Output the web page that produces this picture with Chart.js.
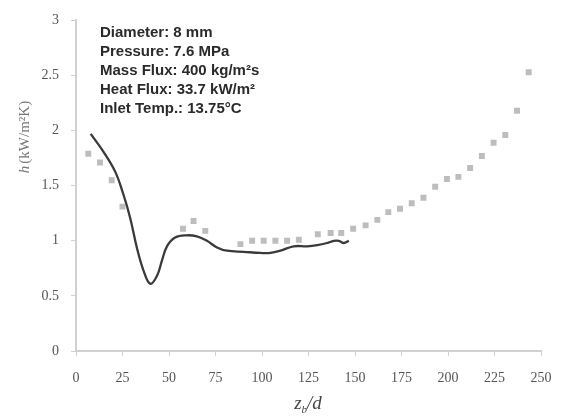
<!DOCTYPE html>
<html>
<head>
<meta charset="utf-8">
<script src="https://cdn.jsdelivr.net/npm/chart.js@4.4.1/dist/chart.umd.min.js"></script>
<style>
  html, body { margin: 0; padding: 0; background: #fff; }
  #wrap { width: 563px; height: 416px; }
</style>
</head>
<body>
<div id="wrap"><canvas id="chart" width="563" height="416"></canvas></div>
<script>
// measured points (grey markers)
const expX = [6.6, 12.9, 19.2, 25.0, 57.5, 63.2, 69.5, 88.4, 94.7, 100.9, 107.2, 113.5, 119.8,
  130.0, 136.9, 142.6, 149.0, 155.7, 162.0, 167.9, 174.2, 180.5, 186.8, 193.1, 199.4, 205.6,
  211.9, 218.2, 224.5, 230.8, 237.1, 243.4];
const expH = [1.79, 1.71, 1.55, 1.31, 1.11, 1.18, 1.09, 0.97, 1.00, 1.00, 1.00, 1.00, 1.01,
  1.06, 1.07, 1.07, 1.11, 1.14, 1.19, 1.26, 1.29, 1.34, 1.39, 1.49, 1.56, 1.58,
  1.66, 1.77, 1.89, 1.96, 2.18, 2.53];

// computed curve (solid line)
const simX = [7.9, 14.7, 21.0, 25.5, 29.1, 32.7, 36.3, 39.9, 43.5, 46.2, 48.9, 53.3, 59.6, 65.0,
  70.4, 75.8, 81.2, 90.2, 99.1, 104.5, 109.9, 117.0, 124.3, 129.7, 135.0, 138.6, 141.3, 144.0, 146.7];
const simH = [1.97, 1.81, 1.63, 1.42, 1.21, 0.94, 0.73, 0.61, 0.68, 0.82, 0.95, 1.03, 1.05, 1.04,
  1.00, 0.94, 0.91, 0.90, 0.89, 0.89, 0.91, 0.95, 0.95, 0.96, 0.98, 1.00, 1.00, 0.98, 1.00];

const xTicks = [0, 25, 50, 75, 100, 125, 150, 175, 200, 225, 250];
const yTicks = [0, 0.5, 1, 1.5, 2, 2.5, 3];

const infoLines = [
  'Diameter: 8 mm',
  'Pressure: 7.6 MPa',
  'Mass Flux: 400 kg/m\u00b2s',
  'Heat Flux: 33.7 kW/m\u00b2',
  'Inlet Temp.: 13.75\u00b0C'
];

const toXY = (xs, ys) => xs.map((x, i) => ({ x: x, y: ys[i] }));
const serif = '"Liberation Serif", "Times New Roman", serif';

// axis titles and the condition box
const annotations = {
  id: 'annotations',
  afterDraw(chart) {
    const ctx = chart.ctx;
    ctx.save();

    ctx.fillStyle = '#2a2a2a';
    ctx.font = 'bold 15px "Liberation Sans", Arial, sans-serif';
    ctx.textBaseline = 'middle';
    ctx.textAlign = 'left';
    infoLines.forEach((t, i) => ctx.fillText(t, 100, 33 + i * 19));

    // y title: h (kW/m²K), rotated
    ctx.translate(25, 137);
    ctx.rotate(-Math.PI / 2);
    ctx.fillStyle = '#777';
    ctx.textBaseline = 'middle';
    ctx.textAlign = 'left';
    ctx.font = 'italic 15px ' + serif;
    const hW = ctx.measureText('h').width;
    ctx.font = '15px ' + serif;
    const rest = '(kW/m\u00b2K)';
    const total = hW + 2 + ctx.measureText(rest).width;
    ctx.font = 'italic 15px ' + serif;
    ctx.fillText('h', -total / 2, 0);
    ctx.font = '15px ' + serif;
    ctx.fillText(rest, -total / 2 + hW + 2, 0);
    ctx.restore();

    // x title: z_b/d
    ctx.save();
    ctx.fillStyle = '#444';
    ctx.textBaseline = 'alphabetic';
    ctx.font = 'italic 19px ' + serif;
    const zW = ctx.measureText('z').width;
    ctx.font = 'italic 11px ' + serif;
    const bW = ctx.measureText('b').width;
    ctx.font = 'italic 19px ' + serif;
    const dW = ctx.measureText('/d').width;
    const x0 = 308 - (zW + bW + dW) / 2;
    const base = 409;
    ctx.fillText('z', x0, base);
    ctx.font = 'italic 11px ' + serif;
    ctx.fillText('b', x0 + zW, base + 4);
    ctx.font = 'italic 19px ' + serif;
    ctx.fillText('/d', x0 + zW + bW, base);
    ctx.restore();
  }
};

new Chart(document.getElementById('chart').getContext('2d'), {
  type: 'scatter',
  data: {
    datasets: [
      {
        label: 'experiment',
        data: toXY(expX, expH),
        pointStyle: 'rect',
        pointRadius: 4.2,
        backgroundColor: '#bdbdbd',
        borderColor: '#bdbdbd',
        borderWidth: 0,
        order: 2
      },
      {
        type: 'line',
        label: 'simulation',
        data: toXY(simX, simH),
        borderColor: '#3a3a3a',
        borderWidth: 2.3,
        pointRadius: 0,
        tension: 0.4,
        fill: false,
        order: 1
      }
    ]
  },
  options: {
    responsive: false,
    animation: false,
    layout: { padding: { top: 16, right: 22, left: 0, bottom: 0 } },
    plugins: {
      legend: { display: false },
      tooltip: { enabled: false }
    },
    scales: {
      x: {
        type: 'linear',
        min: 0,
        max: 250,
        afterBuildTicks: (s) => { s.ticks = xTicks.map(v => ({ value: v })); },
        afterFit: (s) => {
          s.height = 65;
          s.paddingLeft = 0;
          s.paddingRight = 0;
        },
        border: { color: '#d0d0d0', width: 2 },
        grid: { drawOnChartArea: false, tickLength: 5, color: '#d0d0d0' },
        ticks: {
          color: '#555',
          padding: 14,
          maxRotation: 0,
          callback: (v) => String(v),
          font: { family: serif, size: 14 }
        }
      },
      y: {
        min: 0,
        max: 3,
        afterBuildTicks: (s) => { s.ticks = yTicks.map(v => ({ value: v })); },
        afterFit: (s) => { s.width = 76; },
        border: { color: '#d0d0d0', width: 2 },
        grid: { drawOnChartArea: false, tickLength: 5, color: '#d0d0d0' },
        ticks: {
          color: '#555',
          padding: 12,
          callback: (v) => String(v),
          font: { family: serif, size: 14 }
        }
      }
    }
  },
  plugins: [annotations]
});
</script>
</body>
</html>
